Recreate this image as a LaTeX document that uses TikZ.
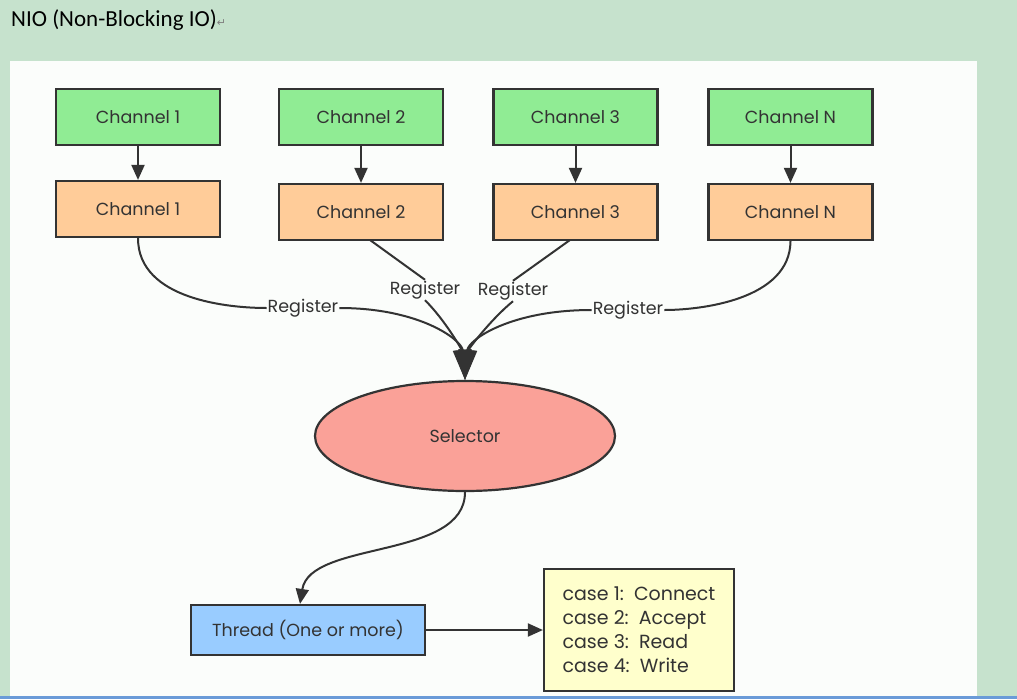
\documentclass[tikz,border=0pt]{standalone}
\usepackage{fontspec}
\setmainfont{Poppins}
\newfontfamily\titlefont{Carlito}
\newfontfamily\symfont{DejaVu Sans}
\usetikzlibrary{arrows.meta,shapes.geometric}
\definecolor{bggreen}{HTML}{C6E2CD}
\definecolor{panel}{HTML}{FBFDFB}
\definecolor{chgreen}{HTML}{90EC94}
\definecolor{chorange}{HTML}{FFCC99}
\definecolor{selred}{HTML}{FAA198}
\definecolor{thblue}{HTML}{99CCFF}
\definecolor{caseyel}{HTML}{FFFFCC}
\definecolor{ink}{HTML}{333333}
\definecolor{botblue}{HTML}{6A9BD8}
\tikzset{
  lbl/.style={font=\fontsize{17.5}{20}\selectfont, text=ink},
  box/.style={draw=ink, line width=2.2pt, minimum width=164pt, minimum height=56pt, inner sep=0pt, lbl},
  gbox/.style={box, fill=chgreen},
  obox/.style={box, fill=chorange},
  conn/.style={draw=ink, line width=2pt},
  arr/.style={conn, -{Triangle[length=15pt,width=13pt]}},
  bigarr/.style={conn, -{Triangle[length=30pt,width=18pt]}},
  reg/.style={fill=panel, inner sep=1pt, lbl},
}
\begin{document}
\begin{tikzpicture}[x=1pt,y=-1pt]
\useasboundingbox (0,0) rectangle (1017,699);
\fill[bggreen] (0,0) rectangle (1017,699);
\fill[panel] (10,61) rectangle (977,696);
\fill[botblue] (0,696) rectangle (1017,699);
\node[anchor=west, inner sep=0pt, font=\titlefont\fontsize{23}{26}\selectfont] (title) at (11,20) {NIO (Non-Blocking IO)\textcolor{gray}{\symfont\fontsize{11}{12}\selectfont ↵}};

\node[gbox] (g1) at (138,117) {Channel 1};
\node[gbox] (g2) at (361,117) {Channel 2};
\node[gbox] (g3) at (575.5,117) {Channel 3};
\node[gbox] (gN) at (790.5,117) {Channel N};
\node[obox] (o1) at (138,209) {Channel 1};
\node[obox] (o2) at (361,212) {Channel 2};
\node[obox] (o3) at (575.5,212) {Channel 3};
\node[obox] (oN) at (790.5,212) {Channel N};
\foreach \a/\b in {g1/o1,g2/o2,g3/o3,gN/oN} \draw[arr] (\a) -- (\b);

\node[ellipse, draw=ink, line width=2.2pt, fill=selred, minimum width=300pt, minimum height=110pt, inner sep=0pt, lbl] (sel) at (465,436) {Selector};

\node[reg] (r1) at (303,308) {Register};
\node[reg] (r2) at (425,290) {Register};
\node[reg] (r3) at (513,291) {Register};
\node[reg] (r4) at (628,310) {Register};

\draw[conn] (o1.south) .. controls (138,300) and (230,308) .. (r1.west);
\draw[bigarr] (r1.east) .. controls (420,308) and (462,340) .. (sel.north);
\draw[conn] (370,240) -- (r2.north);
\draw[bigarr] (r2.south) .. controls (445,320) and (462,350) .. (sel.north);
\draw[conn] (570,240) -- (r3.north);
\draw[bigarr] (r3.south) .. controls (490,320) and (468,350) .. (sel.north);
\draw[conn] (oN.south) .. controls (790,300) and (700,310) .. (r4.east);
\draw[bigarr] (r4.west) .. controls (510,310) and (468,340) .. (sel.north);

\node[box, fill=thblue, minimum width=234pt, minimum height=50pt] (th) at (308,630) {Thread (One or more)};
\node[box, fill=caseyel, minimum width=190pt, minimum height=122pt, align=left, font=\fontsize{19}{24}\selectfont] (cases) at (639,630) {case 1:\ \ Connect\\case 2:\ \ Accept\\case 3:\ \ Read\\case 4:\ \ Write};

\draw[arr] (sel.south) .. controls (465,560) and (310,540) .. (th.north -| 300,0);
\draw[arr] (th) -- (cases);
\end{tikzpicture}
\end{document}
